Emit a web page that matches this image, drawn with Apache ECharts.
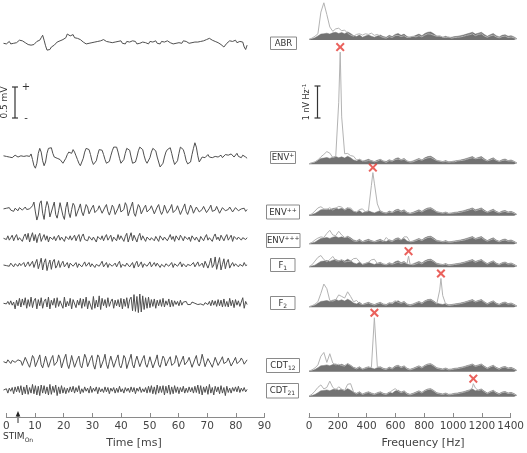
<!DOCTYPE html>
<html><head><meta charset="utf-8">
<script src="https://cdn.jsdelivr.net/npm/echarts@6/dist/echarts.min.js"></script>
<style>html,body{margin:0;padding:0;background:#fff}#c{width:527px;height:453px}</style>
</head><body><div id="c"></div>
<script>
// ---------- DATA ----------
const timeStep = 0.5;   // ms between samples of the time traces
const freqStep = 20;    // Hz between spectral bins
const rowNames = ['ABR', 'ENV+', 'ENV++', 'ENV+++', 'F1', 'F2', 'CDT12', 'CDT21'];
const timeTicks = [0, 10, 20, 30, 40, 50, 60, 70, 80, 90];
const freqTicks = [0, 200, 400, 600, 800, 1000, 1200, 1400];
const stimOnset = 5; // ms

// time traces, units of 0.01 mV
const traceABR = [0,2,-1,1,3,-1,2,0,3,1,2,5,7,4,6,1,2,-2,1,-3,-5,-2,0,3,2,5,9,13,5,-4,-11,-9,-10,-6,-7,-3,-1,2,1,4,3,6,5,9,15,18,12,10,14,9,11,8,10,6,7,2,3,-1,-2,0,-2,1,-1,2,0,3,1,4,7,6,8,3,5,2,4,1,3,2,0,3,1,4,0,2,-1,3,1,2,0,4,1,3,-1,2,0,3,2,5,1,2,-1,3,0,2,1,4,0,2,-1,3,1,2,0,4,5,1,3,-1,2,0,3,1,2,0,4,1,3,2,0,2,1,3,2,4,2,5,3,6,4,7,6,9,8,7,5,6,3,4,1,0,-2,-4,-6,-3,0,2,4,1,3,2,5,1,-1,3,0,2,-6,-10,-3];
const traceENV1 = [0,2,-1,1,-2,0,-3,-1,1,0,-2,1,0,2,-1,1,0,2,-1,3,-6,-16,-20,-12,4,12,6,-8,-16,-10,4,12,14,13,4,-2,0,-4,-2,-6,-8,-12,-10,-4,2,6,8,4,10,6,0,-6,-12,-16,-14,-4,6,12,15,10,2,-8,-14,-16,-8,2,10,13,9,2,-6,-12,-15,-9,0,8,14,11,14,6,-4,-12,-13,-6,4,12,15,9,-2,-12,-14,-10,-2,8,14,17,10,0,-8,-12,-10,-3,6,12,13,8,-2,-10,-18,-21,-12,-2,6,10,12,13,4,-6,-14,-17,-8,4,14,17,10,2,-8,-13,-16,-10,2,12,21,14,0,-10,-9,-2,1,-3,0,2,-2,1,-3,0,-1,2,-2,0,1,-3,0,2,-1,1,-2,3,0,-2,1,4,-1,2,-3,1,3,-2,-4];
const traceENV2 = [1,-2,2,0,3,-1,1,-3,2,0,-2,3,1,-1,2,4,0,-3,1,2,6,12,-4,-17,-9,10,14,-6,-16,2,13,6,-12,-15,4,12,-8,-14,-2,11,8,-10,-16,3,12,-5,-13,0,10,6,-11,-14,2,9,-4,-10,-1,8,4,-7,-9,3,7,-5,-8,0,6,5,-6,-8,4,8,-3,-9,-2,7,3,-8,-6,2,9,-4,-7,0,11,6,-10,-12,5,12,-6,-11,-1,8,4,-7,-8,3,7,-4,-6,1,6,3,-7,-5,4,8,-2,-8,-3,7,5,-6,-7,2,8,-5,-6,0,6,4,-8,-7,3,9,-3,-8,-1,7,2,-6,-5,4,6,-4,-7,0,5,3,-5,-6,2,7,-3,-5,-1,5,4,-6,-4,3,6,-2,-5,0,4,2,-4,-3,3,5,-2,-4,1,4,2,-3,0];
const traceENV3 = [0,3,-2,4,-3,1,5,-4,2,6,-3,1,4,-5,3,7,-2,8,-6,2,9,-4,6,-7,3,8,-5,1,6,-3,4,-6,2,5,-2,3,-4,1,5,-3,2,4,-5,3,6,-2,4,-3,1,5,-4,2,6,-5,3,7,-2,1,-4,3,5,-3,2,4,-6,3,5,-2,4,-4,2,6,-3,1,5,-5,2,3,-4,6,-2,4,7,-5,3,8,-6,2,9,-4,5,7,-6,3,8,-3,4,6,-5,2,5,-3,1,4,-4,3,2,-5,4,6,-3,2,5,-4,1,6,-2,3,-5,4,2,-3,5,1,-4,3,6,-2,2,-5,4,7,-3,2,5,-6,3,4,-4,2,6,-3,1,4,-5,3,7,-2,2,-4,5,3,-4,2,6,-3,1,5,-5,3,4,-2,2,5,-3,1,4,-2,1];
const traceF1 = [0,2,-1,1,-2,3,0,-3,2,1,-2,3,-1,2,4,-3,1,5,-2,0,6,-4,3,9,-6,2,11,-8,4,10,-9,1,8,-7,5,9,-5,-1,7,-4,2,6,-3,0,4,-5,3,5,-2,1,4,-4,2,3,-3,1,5,-2,0,4,-3,2,5,-4,1,3,-2,2,6,-3,0,4,-4,2,5,-2,1,3,-3,2,6,-4,1,4,-2,3,5,-3,0,4,-5,2,6,-3,1,5,-4,2,3,-2,1,5,-3,0,4,-2,3,6,-4,1,3,-3,2,5,-2,0,4,-4,2,3,-2,1,5,-3,2,4,-3,1,3,-1,2,4,-3,0,5,-2,1,3,-4,6,9,-5,2,11,-4,0,13,-7,3,12,-8,1,10,-6,4,9,-5,0,4,-2,2,4,-3,1,3,-2,4,-1,0];
const traceF2 = [0,2,-1,3,-2,4,-3,2,-9,5,-4,8,-6,7,-3,9,-8,6,-5,10,-7,4,8,-9,6,-4,9,-8,3,7,-6,10,-9,5,-3,8,-7,9,-5,4,7,-8,10,-6,3,-4,8,-9,6,9,-7,5,-3,8,-8,7,-5,10,-9,4,6,-10,11,-8,5,-6,12,-10,8,-4,6,-7,9,-5,3,7,-8,5,-4,6,-6,8,-9,7,-5,9,-8,6,10,-12,14,-13,11,-15,15,-14,12,-10,9,-8,10,-7,6,-5,7,-8,5,-4,6,-5,8,-6,4,-3,7,-6,5,-5,4,-2,3,-4,5,-3,2,-1,3,-2,1,-2,2,-1,0,2,-2,1,-1,2,-3,1,2,-2,3,-4,5,-3,4,-5,6,-4,5,-6,7,-5,3,-6,8,-4,5,-7,6,-3,4,-5,2,9,-8,3,-2];
const traceCDT12 = [0,2,-2,3,1,-3,2,4,-1,-4,3,6,1,-6,-5,7,9,-4,-9,0,10,6,-8,-10,4,11,-5,-10,-1,9,7,-9,-11,5,10,-6,-9,0,11,5,-10,-8,6,12,-4,-11,-2,10,8,-9,-12,4,9,-6,-10,1,12,6,-8,-11,5,10,-5,-12,-1,11,7,-10,-9,3,12,-4,-11,0,9,8,-9,-12,5,11,-6,-10,-2,10,6,-11,-9,4,12,-5,-10,1,9,7,-8,-11,5,10,-4,-9,-1,8,6,-10,-8,3,11,-5,-9,0,9,5,-7,-10,4,8,-6,-9,-2,10,4,-8,-7,3,9,-5,-8,1,7,6,-9,-6,4,10,-3,-7,0,12,3,-8,-6,5,8,-4,-9,-1,7,5,-6,-7,3,8,-3,-6,0,6,4,-7,-5,2,7,-3,-5,1,6,2,-4,-2,3];
const traceCDT21 = [0,-3,2,-5,3,-2,4,-6,5,-3,6,-4,7,-8,5,-6,8,-7,4,-5,9,-6,7,-8,6,-9,8,-5,7,-6,5,-8,9,-7,6,-4,8,-9,5,-6,7,-5,4,-6,3,-4,5,-3,6,-5,4,-3,7,-6,2,-4,5,-2,3,-5,6,-4,3,-2,5,-6,4,-3,2,-4,5,-3,4,-6,3,-2,4,-5,3,-4,6,-3,2,-5,4,-2,3,-4,5,-3,4,-6,3,-2,5,-4,2,-3,4,-5,6,-4,7,-6,5,-7,8,-5,6,-4,7,-8,6,-5,8,-7,5,-6,7,-4,5,-6,4,-3,6,-5,3,-4,5,-3,4,-5,6,-4,8,-6,7,-8,5,-4,6,-7,9,-5,4,-8,6,-3,5,-6,7,-5,4,-9,6,-4,3,-5,4,-2,5,-3,6,-4,3,-2,4,-3,1];

// spectra, units of 0.01 nV, one value per 20 Hz bin (0..1400 Hz)
const noiseFloor = [2,4,7,13,19,20,22,19,23,25,21,24,20,26,21,14,11,16,9,13,16,12,9,13,16,11,9,15,11,18,21,15,19,11,8,11,15,19,14,21,25,26,20,13,11,9,12,8,9,11,12,14,16,19,22,25,19,22,25,18,12,17,21,14,10,15,17,12,14,10,4];
const specABR = [2,6,12,20,90,120,82,42,28,36,38,30,32,22,16,12,18,20,16,20,18,22,15,18,12,8,6,11,8,14,15,11,14,8,10,12,10,14,10,16,20,19,15,12,14,9,8,10,6,8,9,10,12,15,17,20,14,18,20,13,9,13,16,10,7,11,13,8,10,7,3];
const specENV1 = [2,5,8,14,24,32,41,36,22,25,200,153,34,35,28,26,14,16,12,10,12,11,8,10,15,10,6,12,10,15,17,14,16,10,7,8,12,16,13,18,21,22,17,12,10,8,9,7,8,8,11,12,13,16,19,21,18,19,21,15,11,14,18,13,9,12,14,11,11,9,3];
const specENV2 = [2,6,15,25,29,22,20,26,18,24,30,28,18,24,25,14,12,20,22,12,15,98,105,38,14,10,8,12,10,15,18,12,16,10,7,9,12,16,12,18,22,23,18,12,10,8,10,7,8,9,10,11,14,16,19,22,16,19,22,15,11,14,18,12,9,12,14,10,12,8,3];
const specENV3 = [2,6,14,20,24,22,35,45,30,28,42,30,22,24,18,11,9,13,8,10,13,10,8,10,13,9,22,12,9,15,18,14,24,24,8,9,12,16,12,18,22,23,17,11,10,8,9,7,7,9,10,12,13,16,19,22,17,19,22,15,10,14,18,12,8,12,14,10,11,8,3];
const specF1 = [2,8,20,32,38,25,18,25,35,22,20,24,17,19,20,28,29,18,10,12,16,24,26,12,14,10,8,12,10,13,17,12,16,12,10,8,11,15,11,18,22,23,18,11,9,8,10,6,7,9,10,12,14,17,20,22,16,20,23,16,10,15,19,12,8,13,15,10,12,8,3];
const specF2 = [2,5,10,18,45,75,60,22,20,24,40,35,30,50,35,18,22,12,9,11,14,10,7,11,14,9,7,13,15,21,16,13,17,9,6,9,13,17,12,19,23,24,18,11,56,38,10,6,7,9,10,12,14,17,20,22,17,20,23,16,10,15,19,12,8,13,15,10,12,8,3];
const specCDT12 = [2,6,12,22,50,62,30,58,28,22,24,20,18,26,20,13,9,14,8,11,14,14,0,16,14,9,7,13,9,16,19,13,17,9,6,9,13,17,12,19,23,24,18,11,9,7,10,6,7,9,10,12,14,17,20,23,17,20,23,16,10,15,19,12,8,13,15,10,12,8,3];
const specCDT21 = [2,8,18,30,38,25,30,50,30,22,32,24,20,40,42,15,9,14,7,11,14,10,7,11,14,9,7,13,20,26,18,13,17,9,6,9,13,17,12,19,23,24,18,11,9,7,10,6,7,9,10,12,14,17,20,30,28,20,23,16,10,15,19,12,8,13,15,10,12,8,3];

// response peaks (Hz, 0.01 nV); null = no marked response
const peakFreqs = [null, 210, 430, null, 670, 888, 440, 1106];
const peakAmps  = [null, 362, 139, null, 36, 93, 174, 42];

const traces = [traceABR, traceENV1, traceENV2, traceENV3, traceF1, traceF2, traceCDT12, traceCDT21];
const spectra = [specABR, specENV1, specENV2, specENV3, specF1, specF2, specCDT12, specCDT21];

// ---------- LAYOUT ----------
const FONT = 'DejaVu Sans';
const LP = {left: 3.5, width: 261, max: 90};
const RP = {left: 309, width: 208, max: 1400};
const leftBase = [43.3, 155.8, 209.5, 238.3, 265, 303.3, 361.7, 390];
const rightBase = [40, 164.3, 215.7, 244.3, 267.3, 307.3, 371.7, 396.7];
const LH = 62, LRange = 50;    // 0.5 mV = 31 px
const pxPerUnitR = 0.31;       // 1 nV = 31 px
const RHmax = 124;
const boxes = [
  [270.5, 37, 26, 12.5], [270.5, 151.5, 25, 12], [266.5, 205, 33, 14], [266.5, 233.5, 33.5, 14],
  [270.5, 258.5, 24.5, 13], [270.5, 296.5, 24.5, 13], [266.5, 358.5, 33, 14], [266.5, 383.5, 32, 14.5]
];
const labelRich = ['{m|ABR}', '{m|ENV}{p|+}', '{m|ENV}{p|++}', '{m|ENV}{p|+++}', '{m|F}{s|1}', '{m|F}{s|2}', '{m|CDT}{s|12}', '{m|CDT}{s|21}'];

const grids = [], xAxes = [], yAxes = [], series = [];
function addGrid(g, xa, ya) {
  grids.push(g);
  const gi = grids.length - 1;
  xAxes.push(Object.assign({gridIndex: gi, type: 'value'}, xa));
  yAxes.push(Object.assign({gridIndex: gi, type: 'value'}, ya));
  return gi;
}
const hidden = {show: false};

traces.forEach((tr, i) => {
  const gi = addGrid({left: LP.left, width: LP.width, top: leftBase[i] - LH / 2, height: LH},
    Object.assign({min: 0, max: LP.max}, hidden), Object.assign({min: -LRange, max: LRange}, hidden));
  series.push({type: 'line', xAxisIndex: gi, yAxisIndex: gi, showSymbol: false, silent: true,
    data: tr.map((v, k) => [k * timeStep, v]),
    lineStyle: {color: '#4f4f4f', width: 1}});
});

spectra.forEach((sp, i) => {
  const h = Math.min(RHmax, rightBase[i] - 1);
  const gi = addGrid({left: RP.left, width: RP.width, top: rightBase[i] - h, height: h},
    Object.assign({min: 0, max: RP.max}, hidden), Object.assign({min: 0, max: h / pxPerUnitR}, hidden));
  series.push({type: 'line', xAxisIndex: gi, yAxisIndex: gi, showSymbol: false, silent: true, clip: false,
    data: noiseFloor.map((v, k) => [k * freqStep, v]),
    lineStyle: {color: '#727272', width: 0.5}, areaStyle: {color: '#727272', opacity: 1}});
  const pf = peakFreqs[i], pa = peakAmps[i];
  let d = sp.map((v, k) => [k * freqStep, v]).filter(p => pf == null || p[0] !== pf);
  if (pf != null) { d.push([pf, pa]); d.sort((a, b) => a[0] - b[0]); }
  series.push({type: 'line', xAxisIndex: gi, yAxisIndex: gi, showSymbol: false, silent: true, z: 3, clip: false,
    data: d, lineStyle: {color: '#b3b3b3', width: 1}});
  if (pf != null) {
    series.push({type: 'scatter', xAxisIndex: gi, yAxisIndex: gi, silent: true, z: 4, clip: false,
      data: [[pf, pa]], symbolSize: 9, symbolOffset: [0, -5],
      symbol: 'path://M0,1.6 L1.6,0 L5,3.4 L8.4,0 L10,1.6 L6.6,5 L10,8.4 L8.4,10 L5,6.6 L1.6,10 L0,8.4 L3.4,5 Z',
      itemStyle: {color: '#e53a33'}});
  }
});

const axisCommon = {
  axisLine: {lineStyle: {color: '#8a8a8a', width: 1}},
  axisTick: {inside: true, length: 4, lineStyle: {color: '#8a8a8a'}},
  axisLabel: {fontSize: 10.5, color: '#444', margin: 4, fontFamily: FONT, hideOverlap: false,
    showMinLabel: true, showMaxLabel: true, formatter: v => String(v)},
  splitLine: {show: false}
};
addGrid({left: LP.left, width: LP.width, top: 416, height: 1},
  Object.assign({min: timeTicks[0], max: timeTicks[timeTicks.length - 1], interval: timeTicks[1] - timeTicks[0], position: 'bottom'}, axisCommon),
  {show: false, min: 0, max: 1});
addGrid({left: RP.left, width: RP.width, top: 416, height: 1},
  Object.assign({min: freqTicks[0], max: freqTicks[freqTicks.length - 1], interval: freqTicks[1] - freqTicks[0], position: 'bottom'}, axisCommon,
    {axisLabel: Object.assign({}, axisCommon.axisLabel, {interval: 0})}),
  {show: false, min: 0, max: 1});

// ---------- GRAPHIC ----------
const ink = '#333';
const graphic = [];
function ln(x1, y1, x2, y2, w) { graphic.push({type: 'line', silent: true, shape: {x1, y1, x2, y2}, style: {stroke: ink, lineWidth: w || 1.2}}); }
// left scale bar
ln(15, 87, 15, 118); ln(12, 87, 18, 87); ln(12, 118, 18, 118);
graphic.push({type: 'text', x: 4.5, y: 102.5, rotation: Math.PI / 2, silent: true,
  style: {text: '0.5 mV', fontSize: 9, fontFamily: FONT, fill: ink, align: 'center', verticalAlign: 'middle'}});
graphic.push({type: 'text', x: 26, y: 87, silent: true, style: {text: '+', fontSize: 10, fontFamily: FONT, fill: ink, align: 'center', verticalAlign: 'middle'}});
graphic.push({type: 'text', x: 26, y: 118, silent: true, style: {text: '-', fontSize: 10, fontFamily: FONT, fill: ink, align: 'center', verticalAlign: 'middle'}});
// right scale bar
ln(317.5, 86, 317.5, 118); ln(314.5, 86, 320.5, 86); ln(314.5, 118, 320.5, 118);
graphic.push({type: 'text', x: 306.5, y: 102, rotation: Math.PI / 2, silent: true,
  style: {text: '{a|1 nV Hz}{s|-1}', align: 'center', verticalAlign: 'middle',
    rich: {a: {fontSize: 8, fontFamily: FONT, fill: ink, lineHeight: 10},
           s: {fontSize: 5.5, fontFamily: FONT, fill: ink, verticalAlign: 'top', lineHeight: 6}}}});
// stimulus onset arrow
const ax = LP.left + stimOnset / LP.max * LP.width;
ln(ax, 423, ax, 415, 1);
graphic.push({type: 'polygon', silent: true, shape: {points: [[ax, 411], [ax - 2.3, 416.5], [ax + 2.3, 416.5]]}, style: {fill: '#222'}});
graphic.push({type: 'text', x: 3, y: 437, silent: true,
  style: {text: '{a|STIM}{b|On}', align: 'left', verticalAlign: 'middle',
    rich: {a: {fontSize: 9, fontFamily: FONT, fill: ink, lineHeight: 12},
           b: {fontSize: 6, fontFamily: FONT, fill: ink, verticalAlign: 'bottom', lineHeight: 6}}}});
// axis names
graphic.push({type: 'text', x: 134, y: 443.5, silent: true,
  style: {text: 'Time [ms]', fontSize: 11, fontFamily: FONT, fill: '#444', align: 'center', verticalAlign: 'middle'}});
graphic.push({type: 'text', x: 423, y: 443.5, silent: true,
  style: {text: 'Frequency [Hz]', fontSize: 11, fontFamily: FONT, fill: '#444', align: 'center', verticalAlign: 'middle'}});
// row label boxes
boxes.forEach((b, i) => {
  graphic.push({type: 'rect', silent: true, shape: {x: b[0], y: b[1], width: b[2], height: b[3]},
    style: {fill: '#fff', stroke: '#8a8a8a', lineWidth: 1}});
  graphic.push({type: 'text', silent: true, x: b[0] + b[2] / 2, y: b[1] + b[3] / 2 + 0.5,
    style: {text: labelRich[i], align: 'center', verticalAlign: 'middle',
      rich: {m: {fontSize: 8.5, fontFamily: FONT, fill: ink, lineHeight: 11},
             p: {fontSize: 6, fontFamily: FONT, fill: ink, verticalAlign: 'top', lineHeight: 6},
             s: {fontSize: 6, fontFamily: FONT, fill: ink, verticalAlign: 'bottom', lineHeight: 6}}}});
});

const chart = echarts.init(document.getElementById('c'), null, {renderer: 'canvas'});
chart.setOption({animation: false, backgroundColor: '#fff', grid: grids, xAxis: xAxes, yAxis: yAxes, series, graphic});
</script></body></html>
